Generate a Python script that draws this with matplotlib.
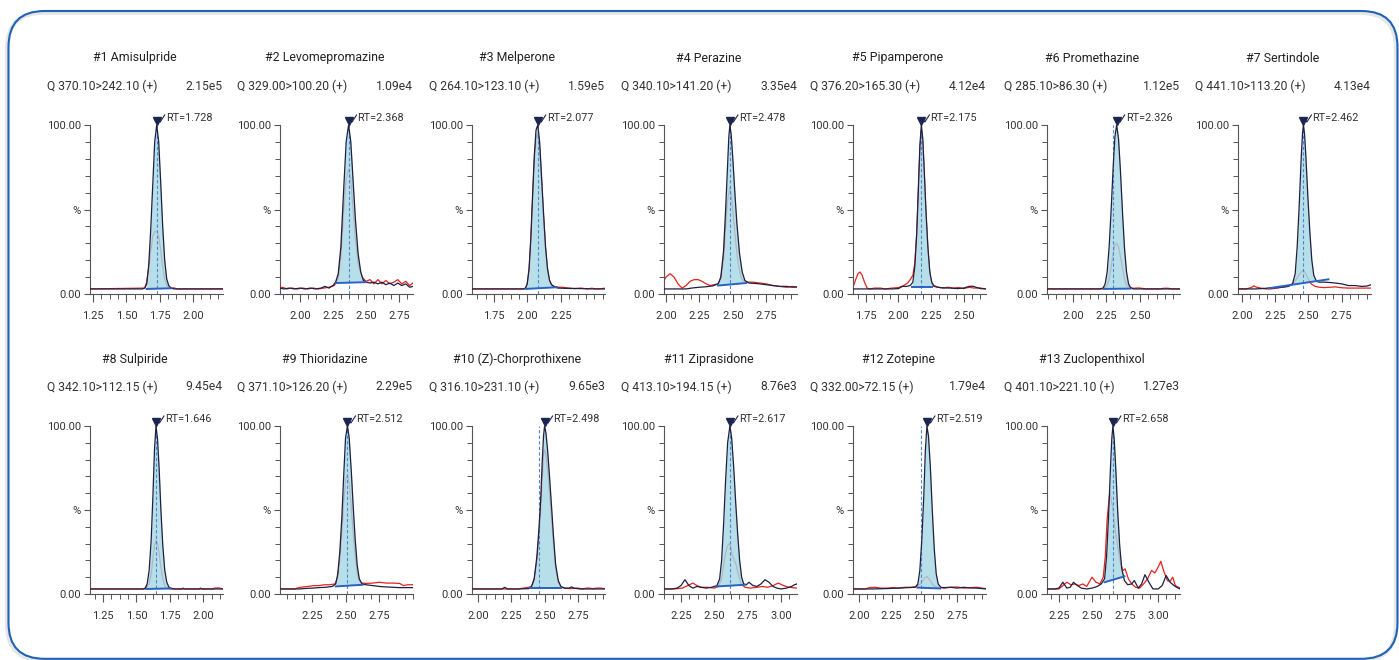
import matplotlib
matplotlib.use("Agg")
import matplotlib.pyplot as plt
import numpy as np
from matplotlib.patches import FancyBboxPatch
from matplotlib.ticker import FixedLocator, AutoMinorLocator, MultipleLocator

plt.rcParams['font.family'] = ['Roboto', 'DejaVu Sans']

# ---- data ----
titles = ["#1 Amisulpride", "#2 Levomepromazine", "#3 Melperone", "#4 Perazine",
          "#5 Pipamperone", "#6 Promethazine", "#7 Sertindole", "#8 Sulpiride",
          "#9 Thioridazine", "#10 (Z)-Chorprothixene", "#11 Ziprasidone",
          "#12 Zotepine", "#13 Zuclopenthixol"]
transitions = ["Q 370.10>242.10 (+)", "Q 329.00>100.20 (+)", "Q 264.10>123.10 (+)",
               "Q 340.10>141.20 (+)", "Q 376.20>165.30 (+)", "Q 285.10>86.30 (+)",
               "Q 441.10>113.20 (+)", "Q 342.10>112.15 (+)", "Q 371.10>126.20 (+)",
               "Q 316.10>231.10 (+)", "Q 413.10>194.15 (+)", "Q 332.00>72.15 (+)",
               "Q 401.10>221.10 (+)"]
intensities = ["2.15e5", "1.09e4", "1.59e5", "3.35e4", "4.12e4", "1.12e5", "4.13e4",
               "9.45e4", "2.29e5", "9.65e3", "8.76e3", "1.79e4", "1.27e3"]
rts = [1.728, 2.368, 2.077, 2.478, 2.175, 2.326, 2.462,
       1.646, 2.512, 2.498, 2.617, 2.519, 2.658]
expected_rts = [1.728, 2.368, 2.077, 2.478, 2.175, 2.300, 2.462,
                1.646, 2.512, 2.454, 2.617, 2.471, 2.658]
x_ranges = [(1.227, 2.226), (1.85, 2.855), (1.585, 2.58), (1.985, 2.98), (1.652, 2.67),
            (1.805, 2.80), (1.97, 2.97), (1.152, 2.148), (2.01, 3.0), (1.955, 2.95),
            (2.123, 3.12), (1.955, 2.97), (2.16, 3.165)]
x_ticklabels = [["1.25", "1.50", "1.75", "2.00"], ["2.00", "2.25", "2.50", "2.75"],
                ["1.75", "2.00", "2.25"], ["2.00", "2.25", "2.50", "2.75"],
                ["1.75", "2.00", "2.25", "2.50"], ["2.00", "2.25", "2.50"],
                ["2.00", "2.25", "2.50", "2.75"], ["1.25", "1.50", "1.75", "2.00"],
                ["2.25", "2.50", "2.75"], ["2.00", "2.25", "2.50", "2.75"],
                ["2.25", "2.50", "2.75", "3.00"], ["2.00", "2.25", "2.50", "2.75"],
                ["2.25", "2.50", "2.75", "3.00"]]

black_x = [
    [1.227, 1.62, 1.638, 1.653, 1.668, 1.683, 1.698, 1.713, 1.728, 1.743, 1.758, 1.773, 1.788, 1.803, 1.818, 1.838, 1.86, 2.226],
    [1.85, 1.88, 1.92, 1.96, 2.00, 2.04, 2.08, 2.12, 2.16, 2.19, 2.22, 2.25, 2.27, 2.29, 2.31, 2.33, 2.35, 2.368, 2.385, 2.40, 2.42, 2.44, 2.46, 2.48, 2.50, 2.53, 2.56, 2.59, 2.62, 2.65, 2.68, 2.71, 2.74, 2.77, 2.80, 2.83, 2.855],
    [1.585, 1.97, 1.985, 1.998, 2.012, 2.025, 2.038, 2.051, 2.064, 2.077, 2.091, 2.105, 2.12, 2.135, 2.15, 2.165, 2.18, 2.20, 2.23, 2.30, 2.40, 2.50, 2.58],
    [1.985, 2.05, 2.10, 2.15, 2.20, 2.25, 2.30, 2.35, 2.39, 2.41, 2.43, 2.445, 2.46, 2.47, 2.478, 2.488, 2.50, 2.515, 2.53, 2.55, 2.57, 2.59, 2.62, 2.66, 2.70, 2.75, 2.80, 2.85, 2.90, 2.95, 2.98],
    [1.652, 1.75, 1.85, 1.95, 2.00, 2.03, 2.06, 2.09, 2.11, 2.125, 2.14, 2.152, 2.164, 2.175, 2.186, 2.198, 2.21, 2.225, 2.24, 2.255, 2.27, 2.30, 2.35, 2.40, 2.45, 2.50, 2.54, 2.57, 2.60, 2.63, 2.67],
    [1.805, 2.20, 2.225, 2.24, 2.255, 2.27, 2.285, 2.30, 2.313, 2.326, 2.34, 2.355, 2.37, 2.385, 2.40, 2.415, 2.43, 2.45, 2.80],
    [1.97, 2.05, 2.10, 2.15, 2.20, 2.25, 2.30, 2.35, 2.38, 2.40, 2.415, 2.43, 2.445, 2.455, 2.462, 2.47, 2.48, 2.495, 2.51, 2.525, 2.54, 2.56, 2.58, 2.62, 2.66, 2.70, 2.75, 2.80, 2.85, 2.90, 2.94, 2.97],
    [1.152, 1.55, 1.565, 1.58, 1.595, 1.61, 1.623, 1.635, 1.646, 1.658, 1.67, 1.683, 1.697, 1.712, 1.727, 1.742, 1.76, 1.79, 2.148],
    [2.01, 2.10, 2.15, 2.20, 2.25, 2.30, 2.35, 2.40, 2.425, 2.44, 2.455, 2.47, 2.485, 2.498, 2.512, 2.525, 2.54, 2.555, 2.57, 2.585, 2.60, 2.62, 2.65, 2.70, 2.75, 2.80, 2.85, 2.90, 2.95, 3.0],
    [1.955, 2.10, 2.18, 2.20, 2.22, 2.30, 2.38, 2.40, 2.42, 2.44, 2.455, 2.468, 2.48, 2.49, 2.498, 2.508, 2.52, 2.535, 2.55, 2.565, 2.58, 2.60, 2.62, 2.65, 2.68, 2.70, 2.72, 2.76, 2.80, 2.90, 2.95],
    [2.123, 2.18, 2.22, 2.25, 2.28, 2.31, 2.34, 2.37, 2.40, 2.44, 2.48, 2.52, 2.54, 2.555, 2.57, 2.585, 2.60, 2.617, 2.63, 2.645, 2.66, 2.675, 2.69, 2.705, 2.72, 2.74, 2.76, 2.79, 2.82, 2.85, 2.88, 2.91, 2.94, 2.97, 3.00, 3.04, 3.08, 3.10, 3.12],
    [1.955, 2.05, 2.10, 2.20, 2.30, 2.38, 2.43, 2.45, 2.465, 2.48, 2.495, 2.507, 2.519, 2.531, 2.545, 2.56, 2.575, 2.59, 2.605, 2.625, 2.65, 2.70, 2.75, 2.80, 2.85, 2.90, 2.97],
    [2.16, 2.22, 2.25, 2.28, 2.31, 2.335, 2.36, 2.39, 2.42, 2.46, 2.50, 2.54, 2.57, 2.595, 2.61, 2.625, 2.64, 2.65, 2.658, 2.668, 2.68, 2.695, 2.71, 2.725, 2.745, 2.77, 2.80, 2.82, 2.85, 2.875, 2.90, 2.93, 2.96, 3.00, 3.03, 3.06, 3.09, 3.12, 3.14, 3.165],
]
black_y = [
    [3, 3, 3.5, 6, 17, 38, 64, 90, 100, 90, 66, 40, 20, 9, 5, 3.4, 3, 3],
    [3.5, 3, 3.5, 3, 3.5, 3, 3.5, 3, 3.5, 4.5, 3.5, 5, 7, 12, 28, 60, 90, 100, 90, 70, 44, 24, 13, 8, 7, 6.5, 7, 6, 7, 5.5, 6.5, 5, 6.5, 5, 6, 4, 4.5],
    [3, 3, 3.5, 6, 15, 33, 58, 82, 97, 100, 90, 70, 48, 28, 15, 8, 5.5, 4.2, 3.5, 3.3, 3.2, 3, 3],
    [3, 3, 3, 3, 3.6, 4, 4.3, 4.8, 6, 10, 25, 48, 75, 93, 100, 94, 80, 60, 42, 24, 13, 8, 6.5, 6.3, 6, 5.5, 5, 4.5, 4.5, 4, 4.2],
    [3, 3, 3, 3, 3.2, 4.5, 4.5, 5, 7, 16, 36, 62, 88, 100, 92, 72, 50, 28, 13, 7, 5, 4, 3.6, 3.5, 3.2, 3.5, 4.5, 4.6, 3.8, 3.2, 3],
    [3, 3, 3.5, 6, 13, 28, 50, 75, 93, 100, 92, 72, 48, 27, 13, 6, 3.8, 3, 3],
    [3, 3, 3, 3.2, 3.5, 3.6, 4, 4.5, 6, 12, 28, 52, 80, 95, 100, 95, 82, 58, 37, 20, 11, 7.5, 7, 7, 6.8, 6.5, 6, 5, 5, 4.5, 4.7, 5.5],
    [3, 3, 3.5, 6, 14, 32, 58, 86, 100, 92, 74, 50, 29, 14, 7, 4.2, 3.3, 3, 3],
    [3, 3, 3, 3.3, 3.5, 3.8, 4, 4.5, 6, 12, 25, 45, 72, 93, 100, 93, 74, 52, 32, 17, 9, 6, 5.5, 5, 4.5, 4.2, 4, 3.8, 3.8, 3.8],
    [3, 3, 3, 4, 3, 3, 3.2, 4.5, 9, 22, 38, 55, 78, 94, 100, 96, 86, 70, 52, 34, 18, 8, 4.5, 3.5, 3.5, 4.2, 3.5, 3, 3, 3, 3],
    [3, 3, 3.5, 5, 8.5, 5, 3.5, 4.5, 4, 3.5, 4, 5, 9, 20, 42, 68, 90, 100, 93, 76, 55, 36, 20, 10, 6, 5.5, 7, 5, 4.5, 6, 8.5, 7, 4.5, 3.5, 3, 3.5, 4.5, 5.5, 6],
    [3, 3, 3, 3.2, 3.5, 3.8, 4, 6, 14, 32, 58, 85, 100, 94, 76, 50, 27, 12, 6, 4, 3.8, 4, 3.5, 4, 3.6, 3.5, 3],
    [3, 3, 3.5, 7, 3.5, 4, 7, 5, 3.5, 3, 3.5, 4.5, 6, 9, 22, 46, 76, 93, 100, 92, 74, 48, 28, 15, 8, 5.5, 6, 8, 3.5, 6, 11.5, 7, 3, 3, 5, 11, 7, 5, 4, 3],
]

red_x = [
    [1.227, 1.638, 1.653, 1.668, 1.683, 1.698, 1.713, 1.728, 1.743, 1.758, 1.773, 1.788, 1.803, 1.818, 1.838, 1.86, 1.88, 2.226],
    [1.85, 1.87, 1.90, 1.94, 1.98, 2.02, 2.06, 2.10, 2.14, 2.18, 2.22, 2.26, 2.29, 2.31, 2.33, 2.35, 2.368, 2.385, 2.40, 2.42, 2.44, 2.47, 2.50, 2.53, 2.56, 2.59, 2.62, 2.65, 2.68, 2.71, 2.74, 2.77, 2.80, 2.83, 2.855],
    [1.585, 1.97, 1.985, 1.998, 2.012, 2.025, 2.038, 2.051, 2.064, 2.077, 2.091, 2.105, 2.12, 2.135, 2.15, 2.165, 2.18, 2.20, 2.23, 2.26, 2.30, 2.35, 2.40, 2.45, 2.48, 2.52, 2.58],
    [1.985, 2.00, 2.03, 2.06, 2.09, 2.12, 2.15, 2.18, 2.21, 2.24, 2.27, 2.30, 2.33, 2.36, 2.39, 2.41, 2.43, 2.445, 2.46, 2.478, 2.49, 2.505, 2.52, 2.54, 2.56, 2.58, 2.60, 2.65, 2.70, 2.75, 2.80, 2.85, 2.90, 2.95, 2.98],
    [1.652, 1.67, 1.69, 1.705, 1.72, 1.74, 1.76, 1.78, 1.82, 1.86, 1.90, 1.95, 2.00, 2.04, 2.07, 2.09, 2.11, 2.125, 2.14, 2.152, 2.164, 2.175, 2.186, 2.198, 2.21, 2.225, 2.24, 2.255, 2.27, 2.30, 2.34, 2.38, 2.42, 2.46, 2.50, 2.54, 2.58, 2.62, 2.67],
    [1.805, 2.225, 2.255, 2.27, 2.285, 2.30, 2.313, 2.326, 2.34, 2.355, 2.37, 2.385, 2.40, 2.43, 2.46, 2.49, 2.52, 2.55, 2.65, 2.68, 2.71, 2.74, 2.80],
    [1.97, 2.03, 2.07, 2.09, 2.11, 2.14, 2.18, 2.22, 2.26, 2.30, 2.34, 2.38, 2.41, 2.43, 2.45, 2.462, 2.48, 2.50, 2.52, 2.55, 2.58, 2.62, 2.66, 2.70, 2.75, 2.80, 2.85, 2.90, 2.97],
    [1.152, 1.565, 1.595, 1.61, 1.623, 1.635, 1.646, 1.658, 1.67, 1.683, 1.697, 1.712, 1.73, 1.76, 1.84, 1.85, 1.86, 1.97, 1.98, 1.99, 2.07, 2.09, 2.12, 2.148],
    [2.01, 2.12, 2.15, 2.18, 2.22, 2.26, 2.30, 2.34, 2.38, 2.42, 2.44, 2.455, 2.47, 2.485, 2.498, 2.512, 2.525, 2.54, 2.555, 2.57, 2.585, 2.60, 2.62, 2.65, 2.70, 2.75, 2.80, 2.85, 2.90, 2.93, 2.96, 3.0],
    [1.955, 2.20, 2.30, 2.40, 2.42, 2.44, 2.455, 2.468, 2.48, 2.49, 2.498, 2.508, 2.52, 2.535, 2.55, 2.565, 2.58, 2.60, 2.62, 2.65, 2.70, 2.75, 2.78, 2.82, 2.86, 2.90, 2.95],
    [2.123, 2.20, 2.26, 2.30, 2.34, 2.37, 2.40, 2.45, 2.50, 2.53, 2.555, 2.575, 2.595, 2.61, 2.62, 2.635, 2.65, 2.665, 2.68, 2.70, 2.73, 2.77, 2.82, 2.86, 2.90, 2.94, 2.98, 3.02, 3.06, 3.12],
    [1.955, 2.05, 2.08, 2.12, 2.17, 2.22, 2.26, 2.30, 2.35, 2.40, 2.44, 2.47, 2.495, 2.52, 2.545, 2.57, 2.60, 2.65, 2.70, 2.75, 2.80, 2.85, 2.90, 2.94, 2.97],
    [2.16, 2.25, 2.28, 2.31, 2.34, 2.37, 2.40, 2.43, 2.46, 2.50, 2.53, 2.56, 2.585, 2.60, 2.615, 2.635, 2.655, 2.675, 2.695, 2.715, 2.735, 2.75, 2.775, 2.80, 2.83, 2.86, 2.89, 2.92, 2.95, 2.975, 3.00, 3.02, 3.045, 3.07, 3.09, 3.11, 3.13, 3.165],
]
red_y = [
    [3, 3.5, 7, 15, 25, 34, 37, 37, 34, 26, 16, 9, 5, 3.8, 3.5, 3.6, 3, 3],
    [3.5, 4, 3, 3.5, 3, 3.5, 3, 3.5, 3, 3.5, 4, 5, 9, 22, 48, 68, 74, 68, 52, 32, 18, 10, 7.5, 8.5, 6, 8.5, 6, 8, 6, 7, 8.5, 6, 7.5, 5, 6.5],
    [3, 3, 3.4, 5.5, 14, 31, 55, 78, 92, 95, 86, 67, 46, 27, 14, 8, 5.5, 4.5, 4, 4, 3.6, 3.2, 3.5, 3, 3.4, 3, 3.4],
    [8, 10, 12, 10, 6, 3.5, 5, 7.5, 8.5, 8.5, 7.5, 6, 5, 5.5, 6, 9, 20, 38, 55, 63, 58, 45, 32, 18, 10, 7.5, 7, 7, 6.5, 6, 5, 4.5, 4, 4.5, 4],
    [4, 8, 12, 13, 11.5, 7, 3.5, 3, 3.5, 3.5, 3, 3.5, 3.8, 5, 6.5, 8.5, 11, 18, 36, 60, 85, 97, 90, 70, 48, 27, 12, 6, 4.5, 4, 3.5, 4, 3.5, 3.8, 3.2, 4, 3.5, 3.6, 3],
    [3, 3, 5, 9, 16, 24, 29, 30, 28, 22, 15, 9, 5, 3.5, 3.4, 3.6, 3.3, 3, 3, 3.4, 3.4, 3, 3],
    [3, 3, 3.8, 4.8, 4, 3.5, 3, 3, 3.5, 4, 4.5, 6, 9, 11.5, 13.5, 14, 12, 8.5, 6, 4.5, 4, 3.8, 4, 4.2, 3.7, 3.5, 3.5, 3.5, 3.5],
    [3, 3, 6, 12, 21, 29, 32, 30, 24, 16, 9, 5, 3.5, 3, 3, 3.6, 3, 3, 3.6, 3, 3, 3.6, 3.6, 3],
    [3, 3, 3.8, 4.2, 4.5, 5, 5, 5.5, 5.5, 6, 10, 20, 36, 55, 68, 71, 66, 52, 36, 22, 12, 8, 6.5, 6.3, 6.5, 7, 6.5, 6.5, 6.3, 5, 5.5, 5.5],
    [3, 3, 3, 4.3, 8, 19, 33, 48, 68, 82, 86, 83, 74, 60, 45, 29, 16, 7, 4, 3.4, 3.2, 3.5, 3, 3.6, 3.2, 3.6, 3.2],
    [3, 3, 3.5, 5, 6.5, 5, 4, 4, 3.5, 4.5, 9, 20, 28, 30, 29, 23, 20, 17, 12, 6, 4, 3.5, 4, 4.5, 4, 5, 6.5, 5, 4, 3.5],
    [3, 3, 3.8, 4, 3.5, 3.5, 3.8, 3.5, 4, 4, 4.5, 6, 9, 10.5, 8, 5, 4, 3.5, 4, 4.2, 3.5, 3.8, 4, 3.5, 3.2],
    [3, 3, 5, 7, 5.5, 6, 5, 6, 4.5, 10, 7, 6, 10, 22, 45, 61, 52, 38, 28, 18, 14, 15, 9, 6, 4, 3.5, 6, 9, 14, 12.5, 16, 19.5, 13, 8, 7.5, 10, 5, 3.5],
]

# integration baselines (start, end)
base_x = [[1.653, 1.838], [2.27, 2.50], [1.985, 2.22], [2.39, 2.60], [2.105, 2.26],
          [2.23, 2.43], [2.20, 2.65], [1.573, 1.76], [2.425, 2.625], [2.39, 2.62],
          [2.52, 2.73], [2.446, 2.62], [2.595, 2.745]]
base_y = [[3.0, 3.4], [6.5, 7.0], [3.0, 4.0], [5.0, 6.5], [4.2, 4.2],
          [3.0, 3.2], [3.4, 8.7], [3.0, 3.3], [4.5, 5.5], [3.5, 3.5],
          [4.5, 5.5], [3.8, 3.3], [7.0, 10.5]]

# ---- layout (pixel positions of axes in the 1399x660 picture) ----
W, H = 1399, 660
col_left = [90, 280, 472, 664, 853, 1047, 1238]
row_top = [125, 426]
row_bottom = [294, 594]
ax_w = 133

BLACK = '#1e2040'
RED = '#e3231f'
FILL = '#a7d9e5'
BLUE = '#2a62c4'
TXT = '#333333'

fig = plt.figure(figsize=(W / 100, H / 100), dpi=100)

# rounded frame around everything
shadow = FancyBboxPatch((0.07, -0.005), 13.89, 6.478,
                        boxstyle='round,pad=0,rounding_size=0.36',
                        transform=fig.dpi_scale_trans, fill=False,
                        ec='#e6e6e6', lw=3.0, zorder=0)
frame = FancyBboxPatch((0.085, 0.012), 13.89, 6.478,
                       boxstyle='round,pad=0,rounding_size=0.36',
                       transform=fig.dpi_scale_trans, fill=False,
                       ec='#1f63b5', lw=1.5, zorder=1)
fig.patches.extend([shadow, frame])

for i in range(len(titles)):
    r, c = divmod(i, 7)
    top, bot = row_top[r], row_bottom[r]
    ax_h = bot - top
    ax = fig.add_axes([col_left[c] / W, (H - bot) / H, ax_w / W, ax_h / H])

    bx = np.array(black_x[i])
    by = np.array(black_y[i])

    ax.plot(red_x[i], red_y[i], color=RED, lw=0.9, zorder=2)

    # filled peak area between trace and integration baseline
    x0, x1 = base_x[i]
    inside = (bx > x0) & (bx < x1)
    fx = np.concatenate([[x0], bx[inside], [x1]])
    fy = np.concatenate([[np.interp(x0, bx, by)], by[inside], [np.interp(x1, bx, by)]])
    low = np.interp(fx, base_x[i], base_y[i])
    ax.fill_between(fx, low, np.maximum(fy, low), color=FILL, alpha=0.82,
                    lw=0, zorder=3)

    ax.axvline(expected_rts[i], ymin=0, ymax=1, color='#4f84d6', lw=0.8,
               ls=(0, (3, 2)), zorder=3.5)
    ax.plot(bx, by, color=BLACK, lw=0.9, zorder=4)
    ax.plot(base_x[i], base_y[i], color=BLUE, lw=1.4, zorder=5)

    lo, hi = x_ranges[i]
    ax.set_xlim(lo, hi)
    ax.set_ylim(0, 100)

    # peak marker, tick mark and RT label
    px_x = (hi - lo) / ax_w
    px_y = 100.0 / ax_h
    rt = rts[i]
    ax.plot(rt, 100 + 3.8 * px_y, marker='v', ms=6, color='#1b2550',
            clip_on=False, zorder=6)
    ax.plot([rt + 2 * px_x, rt + 3.5 * px_x, rt + 8 * px_x],
            [100 + 5 * px_y, 100 + 3 * px_y, 100 + 10 * px_y],
            color='#1b2550', lw=0.8, clip_on=False, zorder=6)
    ax.text(rt + 9 * px_x, 100 + 7 * px_y, "RT=%.3f" % rt, fontsize=7.8,
            color=TXT, ha='left', va='center')

    # texts above the panel
    ax.text(45 / ax_w, 1 + 67 / ax_h, titles[i], transform=ax.transAxes,
            ha='center', va='center', fontsize=8.9, color='#222222')
    ax.text(-43 / ax_w, 1 + 39 / ax_h, transitions[i], transform=ax.transAxes,
            ha='left', va='center', fontsize=8.7, color=TXT)
    ax.text(1.0, 1 + 39 / ax_h, intensities[i], transform=ax.transAxes,
            ha='right', va='center', fontsize=8.7, color=TXT)

    # axes styling
    for s in ('top', 'right'):
        ax.spines[s].set_visible(False)
    for s in ('left', 'bottom'):
        ax.spines[s].set_color('#555555')
        ax.spines[s].set_linewidth(0.8)

    ticks = [float(t) for t in x_ticklabels[i]]
    ax.xaxis.set_major_locator(FixedLocator(ticks))
    ax.set_xticklabels(x_ticklabels[i])
    ax.xaxis.set_minor_locator(AutoMinorLocator(4))
    ax.yaxis.set_major_locator(FixedLocator([0, 50, 100]))
    ax.set_yticklabels(['0.00', '%', '100.00'])
    ax.yaxis.set_minor_locator(MultipleLocator(10))

    ax.tick_params(axis='x', which='major', length=6, width=0.8, color='#555555',
                   labelsize=8.0, labelcolor=TXT, pad=6)
    ax.tick_params(axis='x', which='minor', length=3.5, width=0.7, color='#555555')
    ax.tick_params(axis='y', which='major', length=4.5, width=0.8, color='#555555',
                   labelsize=8.0, labelcolor=TXT, pad=2)
    ax.tick_params(axis='y', which='minor', length=3.5, width=0.7, color='#555555')

fig.savefig('out.png', dpi=100, facecolor='white')
